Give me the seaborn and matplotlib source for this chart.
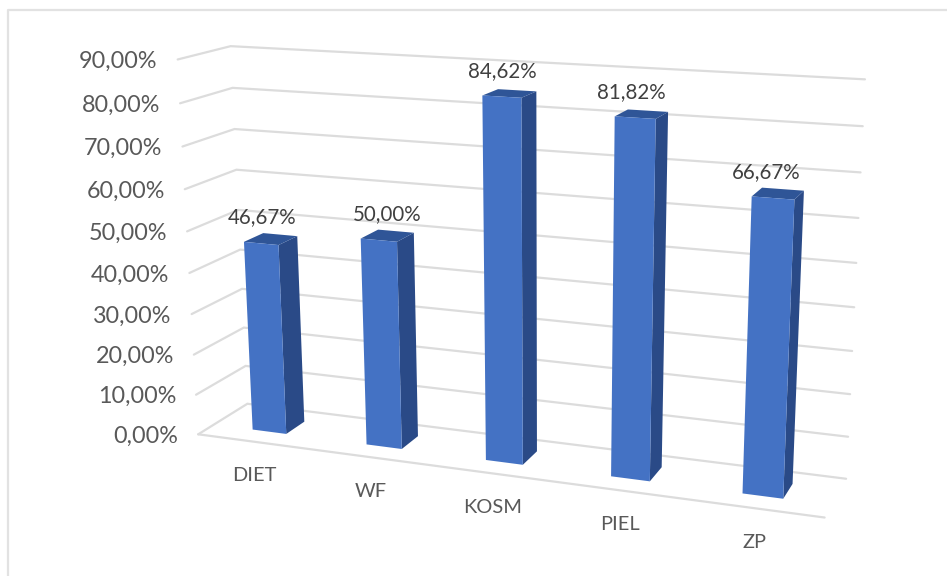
import numpy as np
import matplotlib
matplotlib.use("Agg")
import matplotlib.pyplot as plt
import matplotlib.transforms as mtrans
from matplotlib.patches import Polygon
import seaborn as sns

categories = ["DIET", "WF", "KOSM", "PIEL", "ZP"]
values = [46.67, 50.00, 84.62, 81.82, 66.67]
value_labels = ["46,67%", "50,00%", "84,62%", "81,82%", "66,67%"]
grid_ticks = [0, 10, 20, 30, 40, 50, 60, 70, 80, 90]
tick_labels = ["0,00%", "10,00%", "20,00%", "30,00%", "40,00%",
               "50,00%", "60,00%", "70,00%", "80,00%", "90,00%"]

FRONT, SIDE, TOP = "#4472C4", "#2A4A87", "#2F5597"
GRID = "#DCDCDC"
TEXT = "#595959"
VALTEXT = "#404040"
LABEL_SHIFT = [1, 8, 1, -4, -7]  # horizontal nudge of the value labels, pixels

sns.set_theme(style="white")
plt.rcParams["font.family"] = ["Lato", "DejaVu Sans"]

# Camera of the 3D scene: world corners (category, value, depth) -> pixels
X0, X1 = -0.5, 4.5
camera_world = [(X0, 0, 0), (X0, 0, 1), (X0, 90, 0), (X0, 90, 1),
                (X1, 90, 1), (X1, 0, 1), (X1, 0, 0)]
camera_pixel = [(197.3, 434), (248.3, 404), (178.3, 60), (230, 45.7),
                (865, 79.3), (845.7, 479), (825, 517.3)]
rows = []
for (wx, wv, wz), (px, py) in zip(camera_world, camera_pixel):
    p = [wx, wv / 90.0, wz, 1.0]
    rows.append(p + [0, 0, 0, 0] + [-px * c for c in p])
    rows.append([0, 0, 0, 0] + p + [-py * c for c in p])
CAM = np.linalg.svd(np.array(rows))[2][-1].reshape(3, 4)


def project(x, v, z):
    x, v, z = np.broadcast_arrays(np.asarray(x, float), np.asarray(v, float), np.asarray(z, float))
    h = CAM @ np.vstack([x.ravel(), v.ravel() / 90.0, z.ravel(), np.ones(x.size)])
    return np.column_stack([h[0] / h[2], h[1] / h[2]])


class DepthPlane(mtrans.Transform):
    """Maps (category, value) at a fixed depth to pixels."""
    input_dims = output_dims = 2

    def __init__(self, z):
        super().__init__()
        self.z = z

    def transform_non_affine(self, xy):
        xy = np.asarray(xy, float)
        return project(xy[:, 0], xy[:, 1], self.z)


fig = plt.figure(figsize=(9.47, 5.76), dpi=100, facecolor="white")
ax = fig.add_axes([0, 0, 1, 1])

BAR_W, Z_F, Z_B = 0.30, 0.31, 0.70
sns.barplot(x=categories, y=values, color=FRONT, saturation=1, width=BAR_W,
            ax=ax, zorder=3)
ax.set_xlim(0, 947)
ax.set_ylim(576, 0)
ax.axis("off")

# grid: left wall + back wall
for t in grid_ticks:
    pts = project([X0, X0, X1], [t, t, t], [0, 1, 1])
    ax.plot(pts[:, 0], pts[:, 1], color=GRID, lw=1.6, zorder=1, solid_joinstyle="miter")
pts = project([X0, X1], [0, 0], [0, 0])
ax.plot(pts[:, 0], pts[:, 1], color=GRID, lw=1.6, zorder=1)

# bars: seaborn rectangles become front faces, with side and top faces added
plane = DepthPlane(Z_F) + ax.transData
for patch, lab, dx in zip(ax.patches[:], value_labels, LABEL_SHIFT):
    x0, w, h = patch.get_x(), patch.get_width(), patch.get_height()
    patch.set_transform(plane)
    patch.set_edgecolor("none")
    patch.set_zorder(3)
    side = project([x0 + w] * 4, [0, h, h, 0], [Z_F, Z_F, Z_B, Z_B])
    top = project([x0, x0 + w, x0 + w, x0], [h] * 4, [Z_F, Z_F, Z_B, Z_B])
    ax.add_patch(Polygon(side, closed=True, fc=SIDE, ec="none", zorder=2.9))
    ax.add_patch(Polygon(top, closed=True, fc=TOP, ec="none", zorder=2.9))
    c = project(x0 + w / 2, h, Z_F)[0]
    ax.annotate(lab, c, xytext=(dx, 26), textcoords="offset pixels", ha="center",
                va="center", fontsize=14.8, color=VALTEXT, zorder=5,
                xycoords="data")

# value axis labels
for t, lab in zip(grid_ticks, tick_labels):
    c = project(X0, t, 0)[0]
    ax.annotate(lab, c, xytext=(-20, -2), textcoords="offset pixels", ha="right",
                va="center", fontsize=16.8, color=TEXT)

# category labels
for i, name in enumerate(categories):
    c = project(i, 0, 0)[0]
    ax.annotate(name, c, xytext=(0, -34), textcoords="offset pixels", ha="center",
                va="center", fontsize=14.4, color=TEXT)

# chart frame
fig.add_artist(plt.Line2D([8 / 947, 8 / 947, 1], [0, 1 - 10 / 576, 1 - 10 / 576],
                          color="#E2E2E2", lw=1.6))

fig.savefig("out.png", dpi=100, facecolor="white")
